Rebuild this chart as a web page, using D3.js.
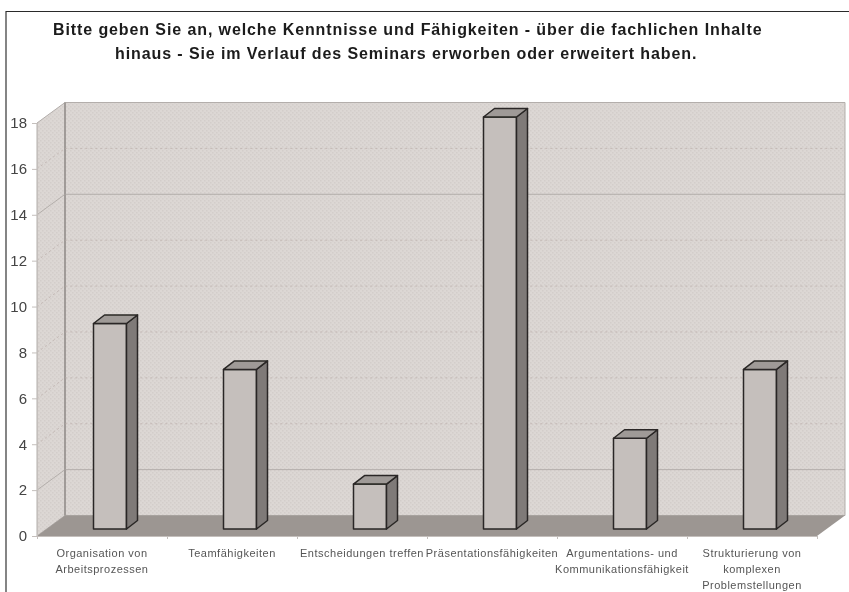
<!DOCTYPE html>
<html>
<head>
<meta charset="utf-8">
<script src="https://cdn.jsdelivr.net/npm/d3@7"></script>
<style>
  html, body { margin: 0; padding: 0; background: #fff; }
  svg { display: block; }
  text { font-family: "Liberation Sans", Arial, sans-serif; }
</style>
</head>
<body>
<div class="chart"></div>
<script>
let categories = [
    ['Organisation von', 'Arbeitsprozessen'],
    ['Teamfähigkeiten'],
    ['Entscheidungen treffen'],
    ['Präsentationsfähigkeiten'],
    ['Argumentations- und', 'Kommunikationsfähigkeit'],
    ['Strukturierung von', 'komplexen', 'Problemstellungen']
];
let values = [9, 7, 2, 18, 4, 7];
let yTicks = [0, 2, 4, 6, 8, 10, 12, 14, 16, 18];
let titleLines = [
    'Bitte geben Sie an, welche Kenntnisse und Fähigkeiten - über die fachlichen Inhalte',
    'hinaus - Sie im Verlauf des Seminars erworben oder erweitert haben.'
];

let w = 849, h = 592;
let svg = d3.select('.chart').append('svg').attr('width', w).attr('height', h);

// 3d offsets: back wall is depthX/depthY away from the front plane
let depthX = 28, depthY = 20.5;
let barDepthX = 11, barDepthY = 8.5;
let barShiftX = 8, barShiftY = 7, barTopShift = 6;
let barWidth = 33;

let xScale = d3.scaleBand()
    .domain(d3.range(categories.length))
    .range([37, 817]);

let yScale = d3.scaleLinear()
    .domain([0, 18])
    .range([536, 123]);

let defs = svg.append('defs');

defs.append('filter')
    .attr('id', 'soft')
    .append('feGaussianBlur')
    .attr('stdDeviation', 0.55);

defs.append('filter')
    .attr('id', 'softer')
    .append('feGaussianBlur')
    .attr('stdDeviation', 0.7);

// dithered wall, like the original gif
let wallPattern = defs.append('pattern')
    .attr('id', 'wall-dither')
    .attr('width', 4)
    .attr('height', 4)
    .attr('patternUnits', 'userSpaceOnUse');
wallPattern.append('rect').attr('width', 4).attr('height', 4).attr('fill', '#dcd7d4');
wallPattern.append('rect').attr('x', 0).attr('y', 0).attr('width', 1.5).attr('height', 1.5).attr('fill', '#d3cdca');
wallPattern.append('rect').attr('x', 2).attr('y', 2).attr('width', 1.5).attr('height', 1.5).attr('fill', '#d3cdca');

function poly(g, points, fill, stroke, strokeWidth) {
    return g.append('polygon')
        .attr('points', points.map(function (p) { return p.join(','); }).join(' '))
        .attr('fill', fill)
        .attr('stroke', stroke || 'none')
        .attr('stroke-width', strokeWidth || 0)
        .attr('stroke-linejoin', 'round');
}

/* ==== OUTER FRAME ===== */

svg.append('path')
    .attr('d', 'M6,11V592')
    .attr('fill', 'none')
    .attr('stroke', '#666')
    .attr('stroke-width', 1.6);
svg.append('path')
    .attr('d', 'M6,11.5H849')
    .attr('fill', 'none')
    .attr('stroke', '#2a2a2a')
    .attr('stroke-width', 1.2);

let plot = svg.append('g').attr('filter', 'url(#soft)');

/* ==== WALLS AND FLOOR ===== */

let x0 = xScale.range()[0], x1 = xScale.range()[1];
let yBase = yScale(0), yTop = yScale(18);

poly(plot, [[x0, yBase], [x0, yTop], [x0 + depthX, yTop - depthY], [x0 + depthX, yBase - depthY]],
    'url(#wall-dither)', '#b3aeab', 1);
poly(plot, [[x0 + depthX, yBase - depthY], [x0 + depthX, yTop - depthY], [x1 + depthX, yTop - depthY], [x1 + depthX, yBase - depthY]],
    'url(#wall-dither)', '#b3aeab', 1);
plot.append('path')
    .attr('d', 'M' + (x0 + depthX) + ',' + (yTop - depthY) + 'V' + (yBase - depthY))
    .attr('stroke', '#a09b98')
    .attr('stroke-width', 2);
poly(plot, [[x0, yBase], [x0 + depthX, yBase - depthY], [x1 + depthX, yBase - depthY], [x1, yBase]],
    '#9c9692');

/* ==== GRID LINES ===== */

let solidLines = [2, 14];
yTicks.slice(1, -1).forEach(function (t) {
    let y = yScale(t);
    let solid = solidLines.indexOf(t) >= 0;
    plot.append('path')
        .attr('d', 'M' + x0 + ',' + y + 'L' + (x0 + depthX) + ',' + (y - depthY) + 'H' + (x1 + depthX))
        .attr('fill', 'none')
        .attr('stroke', solid ? '#aaa4a1' : '#bdb0ac')
        .attr('stroke-width', 0.8)
        .attr('stroke-dasharray', solid ? null : '2,3');
});

/* ==== BARS ===== */

let bars = plot.selectAll('g.bar')
    .data(values)
    .enter()
    .append('g')
    .attr('class', 'bar');

bars.each(function (d, i) {
    let g = d3.select(this);
    let left = xScale(i) + (xScale.bandwidth() - barWidth) / 2 + barShiftX;
    let right = left + barWidth;
    let bottom = yBase - barShiftY;
    let top = yScale(d) - barTopShift;

    poly(g, [[left, bottom], [left, top], [right, top], [right, bottom]], '#c5bfbc', '#2a2826', 1.5);
    poly(g, [[right, bottom], [right, top], [right + barDepthX, top - barDepthY], [right + barDepthX, bottom - barDepthY]], '#7f7a78', '#2a2826', 1.5);
    poly(g, [[left, top], [left + barDepthX, top - barDepthY], [right + barDepthX, top - barDepthY], [right, top]], '#9f9a97', '#2a2826', 1.5);
});

/* ==== AXES ===== */

let xAxis = d3.axisBottom()
    .scale(d3.scaleLinear().domain([0, categories.length]).range([x0, x1]))
    .ticks(categories.length)
    .tickSize(3)
    .tickFormat('');

let yAxis = d3.axisLeft()
    .scale(yScale)
    .tickValues(yTicks)
    .tickSize(5)
    .tickPadding(5);

let xG = plot.append('g')
    .attr('transform', 'translate(0,' + yBase + ')')
    .call(xAxis);
xG.select('.domain').attr('stroke', '#c4bfbc');
xG.selectAll('line').attr('stroke', '#c4bfbc');

let yG = svg.append('g')
    .attr('transform', 'translate(' + x0 + ',0)')
    .attr('filter', 'url(#soft)')
    .call(yAxis);
yG.select('.domain').attr('stroke', '#c4bfbc');
yG.selectAll('line').attr('stroke', '#c4bfbc');
yG.selectAll('text')
    .attr('font-size', 15)
    .attr('font-family', '"Liberation Sans", Arial, sans-serif')
    .attr('fill', '#444');

/* ==== CATEGORY LABELS ===== */

let labels = svg.append('g').attr('filter', 'url(#softer)');
categories.forEach(function (lines, i) {
    lines.forEach(function (line, k) {
        labels.append('text')
            .text(line)
            .attr('x', xScale(i) + xScale.bandwidth() / 2)
            .attr('y', 557 + k * 16)
            .attr('text-anchor', 'middle')
            .attr('font-size', 11)
            .attr('letter-spacing', 0.5)
            .attr('fill', '#555');
    });
});

/* ==== TITLE ===== */

let titleX = [53, 115];
let title = svg.append('g').attr('filter', 'url(#softer)');
titleLines.forEach(function (line, k) {
    title.append('text')
        .text(line)
        .attr('x', titleX[k])
        .attr('y', 35 + k * 24)
        .attr('letter-spacing', 0.9)
        .attr('font-size', 16)
        .attr('font-weight', 'bold')
        .attr('fill', '#1a1a1a');
});
</script>
</body>
</html>
